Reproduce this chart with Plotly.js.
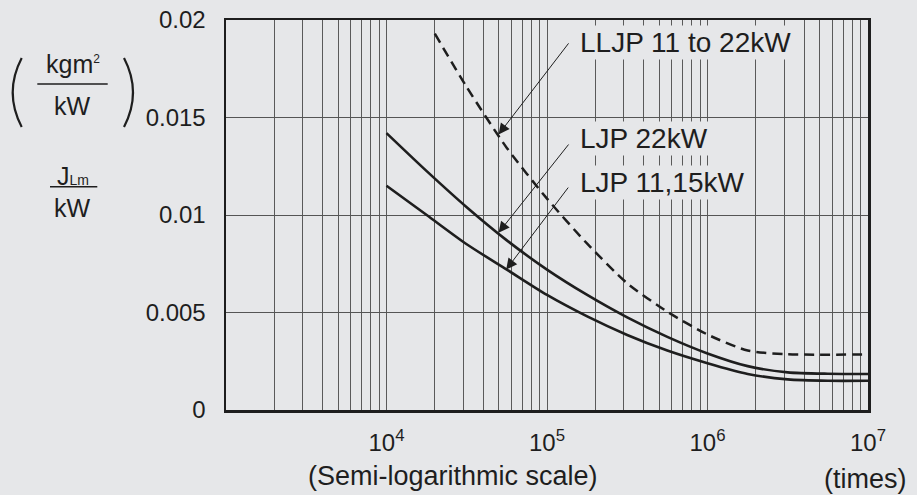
<!DOCTYPE html>
<html><head><meta charset="utf-8">
<script src="https://cdn.plot.ly/plotly-3.0.1.min.js"></script>
<style>html,body{margin:0;padding:0;background:#e6e7e9;} #chart{width:917px;height:495px;}</style>
</head><body><div id="chart"></div>
<script>
// ---- data ----
const lljpX = [2.0e4, 3.16e4, 5.62e4, 1.0e5, 1.78e5, 3.16e5, 5.62e5, 1.0e6, 1.78e6, 3.16e6, 1.0e7];
const lljpY = [0.0193, 0.01656, 0.01344, 0.01084, 0.00853, 0.0065, 0.00504, 0.00387, 0.00305, 0.00286, 0.00285];
const ljp22X = [1.0e4, 1.78e4, 3.16e4, 5.62e4, 1.0e5, 1.78e5, 3.16e5, 5.62e5, 1.0e6, 1.78e6, 3.16e6, 5.62e6, 1.0e7];
const ljp22Y = [0.0142, 0.01225, 0.0104, 0.0087, 0.0072, 0.0059, 0.00475, 0.00375, 0.0029, 0.00225, 0.00193, 0.00186, 0.00185];
const ljp1115X = [1.0e4, 1.78e4, 3.16e4, 5.62e4, 1.0e5, 1.78e5, 3.16e5, 5.62e5, 1.0e6, 1.78e6, 3.16e6, 5.62e6, 1.0e7];
const ljp1115Y = [0.0115, 0.01, 0.0085, 0.0072, 0.0059, 0.0048, 0.00385, 0.00305, 0.0024, 0.00185, 0.00157, 0.0015, 0.0015];

const seriesNames = ['LLJP 11 to 22kW', 'LJP 22kW', 'LJP 11,15kW'];
const xTickVals = [1e4, 1e5, 1e6, 1e7];
const xTickText = ['10<sup>4</sup>', '10<sup>5</sup>', '10<sup>6</sup>', '10<sup>7</sup>'];
const yTickVals = [0, 0.005, 0.01, 0.015, 0.02];
const yTickText = ['0', '0.005', '0.01', '0.015', '0.02'];

// ---- styling ----
const BG = '#e6e7e9';
const INK = '#1e1e1e';
const GRID = '#5a5a5a';
const SANS = '"Liberation Sans", Arial, sans-serif';

// minor grid positions 2..9 in each decade
const minorVals = [];
for (let d = 3; d < 7; d++) for (let k = 2; k <= 9; k++) minorVals.push(k * Math.pow(10, d));

// pixel -> paper helpers (plot area: x 226..868, y 20..410)
const L = 226, R = 49, T = 20, B = 85, W = 917 - L - R, H = 495 - T - B;
const px = x => (x - L) / W;
const py = y => (495 - B - y) / H;

const traces = [
  {x: lljpX, y: lljpY, name: seriesNames[0], mode: 'lines',
   line: {color: INK, width: 2.5, dash: '10px,6px', shape: 'spline', smoothing: 0.7}},
  {x: ljp22X, y: ljp22Y, name: seriesNames[1], mode: 'lines',
   line: {color: INK, width: 2.6, shape: 'spline', smoothing: 0.7}},
  {x: ljp1115X, y: ljp1115Y, name: seriesNames[2], mode: 'lines',
   line: {color: INK, width: 2.6, shape: 'spline', smoothing: 0.7}}
];

const labelFont = {family: SANS, size: 28, color: INK};
const arrowBase = {text: ' ', showarrow: true, arrowhead: 2, arrowsize: 2.2, arrowwidth: 1,
  arrowcolor: INK, standoff: 0, xref: 'x', yref: 'y'};

const annotations = [
  // curve labels
  {text: seriesNames[0], xref: 'paper', yref: 'paper', x: px(578), y: py(42), xanchor: 'left', yanchor: 'middle',
   showarrow: false, font: labelFont, bgcolor: BG, borderpad: 1},
  {text: seriesNames[1], xref: 'paper', yref: 'paper', x: px(578), y: py(138), xanchor: 'left', yanchor: 'middle',
   showarrow: false, font: labelFont, bgcolor: BG, borderpad: 1},
  {text: seriesNames[2], xref: 'paper', yref: 'paper', x: px(578), y: py(182), xanchor: 'left', yanchor: 'middle',
   showarrow: false, font: labelFont, bgcolor: BG, borderpad: 1},
  // arrows
  Object.assign({}, arrowBase, {x: Math.log10(4.99e4), y: 0.01413, ax: 73, ay: -95}),
  Object.assign({}, arrowBase, {x: Math.log10(4.99e4), y: 0.00909, ax: 73, ay: -92}),
  Object.assign({}, arrowBase, {x: Math.log10(5.57e4), y: 0.0072, ax: 65, ay: -86}),
  // x axis captions
  {text: '(Semi-logarithmic scale)', xref: 'paper', yref: 'paper', x: px(453), y: py(476),
   xanchor: 'center', yanchor: 'middle', showarrow: false, font: {family: SANS, size: 27, color: INK}},
  {text: '(times)', xref: 'paper', yref: 'paper', x: px(865), y: py(479),
   xanchor: 'center', yanchor: 'middle', showarrow: false, font: {family: SANS, size: 27, color: INK}},
  // y axis unit block
  {text: 'kgm<sup><span style="font-size:12px">2</span></sup>', xref: 'paper', yref: 'paper', x: px(73), y: py(64),
   xanchor: 'center', yanchor: 'middle', showarrow: false, font: {family: SANS, size: 25, color: INK}},
  {text: 'kW', xref: 'paper', yref: 'paper', x: px(72), y: py(106),
   xanchor: 'center', yanchor: 'middle', showarrow: false, font: {family: SANS, size: 25, color: INK}},
  {text: 'J<span style="font-size:14px">Lm</span>', xref: 'paper', yref: 'paper', x: px(73), y: py(176),
   xanchor: 'center', yanchor: 'middle', showarrow: false, font: {family: SANS, size: 25, color: INK}},
  {text: 'kW', xref: 'paper', yref: 'paper', x: px(72), y: py(208),
   xanchor: 'center', yanchor: 'middle', showarrow: false, font: {family: SANS, size: 25, color: INK}}
];

const shapes = [
  {type: 'line', xref: 'paper', yref: 'paper', x0: px(37.3), x1: px(107.7), y0: py(84), y1: py(84),
   line: {color: INK, width: 1.5}},
  {type: 'line', xref: 'paper', yref: 'paper', x0: px(50), x1: px(97.3), y0: py(186.7), y1: py(186.7),
   line: {color: INK, width: 1.5}},
  {type: 'path', xref: 'paper', yref: 'paper',
   path: `M ${px(21.7)},${py(58)} Q ${px(3.7)},${py(92.5)} ${px(21.7)},${py(127)}`,
   line: {color: INK, width: 2.2}},
  {type: 'path', xref: 'paper', yref: 'paper',
   path: `M ${px(124)},${py(58)} Q ${px(142)},${py(92.5)} ${px(124)},${py(127)}`,
   line: {color: INK, width: 2.2}}
];

const layout = {
  width: 917, height: 495,
  margin: {l: L, r: R, t: T, b: B, pad: 0},
  paper_bgcolor: BG, plot_bgcolor: BG,
  showlegend: false,
  xaxis: {
    type: 'log', range: [3, 7], fixedrange: true,
    tickvals: xTickVals, ticktext: xTickText, ticks: '', ticklabelstandoff: 10,
    tickfont: {family: SANS, size: 24, color: INK},
    showgrid: true, gridcolor: GRID, gridwidth: 1,
    minor: {tickvals: minorVals, showgrid: true, gridcolor: GRID, gridwidth: 1, ticks: ''},
    showline: true, mirror: true, linecolor: INK, linewidth: 2.5, zeroline: false
  },
  yaxis: {
    range: [0, 0.02], fixedrange: true,
    tickvals: yTickVals, ticktext: yTickText, ticks: '', ticklabelstandoff: 13,
    tickfont: {family: SANS, size: 24, color: INK},
    showgrid: true, gridcolor: '#555', gridwidth: 1,
    showline: true, mirror: true, linecolor: INK, linewidth: 2.5, zeroline: false
  },
  annotations: annotations,
  shapes: shapes
};

Plotly.newPlot('chart', traces, layout, {displayModeBar: false, staticPlot: true});
</script>
</body></html>
